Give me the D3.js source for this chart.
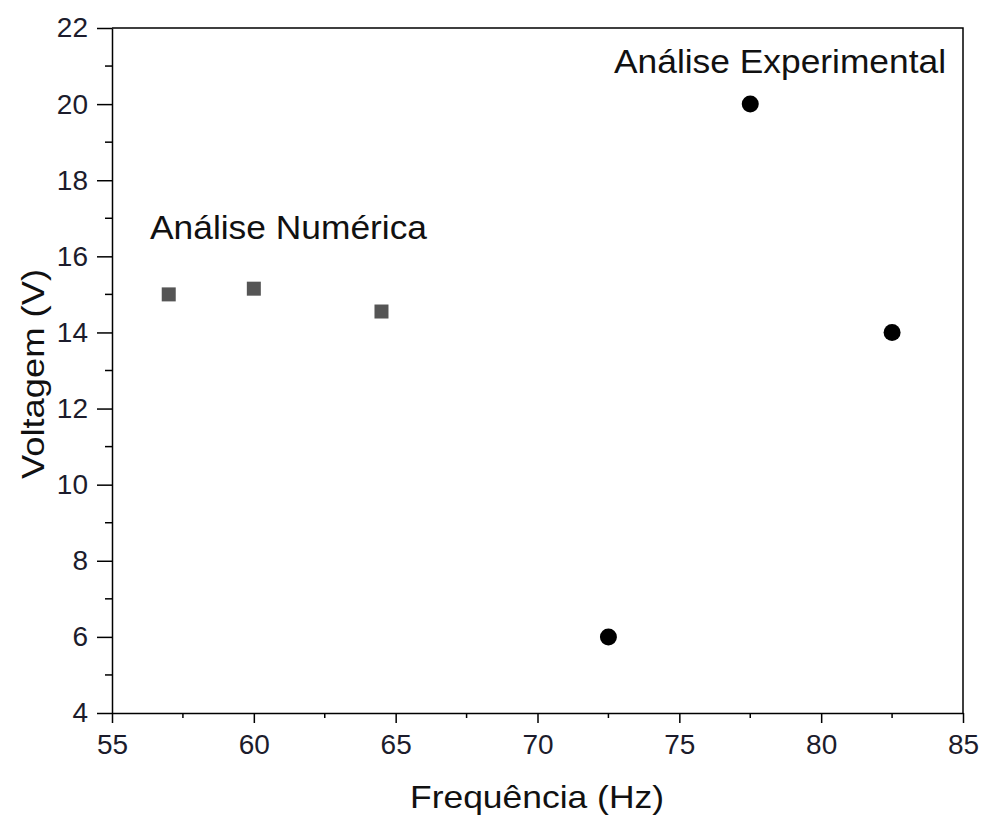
<!DOCTYPE html>
<html>
<head>
<meta charset="utf-8">
<script src="https://cdn.jsdelivr.net/npm/d3@7"></script>
<style>
  body { margin: 0; background: #fff; }
  svg { display: block; font-family: Arial, "Liberation Sans", sans-serif; }
</style>
</head>
<body>
<svg id="chart" width="988" height="827"></svg>
<script>
// Data
const numericFreq = [57, 60, 64.5];
const numericVolt = [15.0, 15.15, 14.55];
const experimentalFreq = [72.5, 77.5, 82.5];
const experimentalVolt = [6, 20, 14];
const xTicks = [55, 60, 65, 70, 75, 80, 85];
const yTicks = [4, 6, 8, 10, 12, 14, 16, 18, 20, 22];

const svg = d3.select("#chart");
const plotLeft = 112, plotRight = 963, plotTop = 28, plotBottom = 713;

const x = d3.scaleLinear().domain([55, 85]).range([plotLeft, plotRight]);
const y = d3.scaleLinear().domain([4, 22]).range([plotBottom, plotTop]);

// Frame (top and right)
svg.append("path")
  .attr("d", `M${plotLeft},${plotTop}H${plotRight}V${plotBottom}`)
  .attr("fill", "none")
  .attr("stroke", "#000")
  .attr("stroke-width", 1.5);

// Bottom axis
const xMinor = d3.range(57.5, 85, 5);
const xAxis = svg.append("g").attr("transform", `translate(0,${plotBottom})`);
xAxis.call(d3.axisBottom(x).tickValues(xTicks).tickSize(10).tickSizeOuter(0).tickPadding(11));
xAxis.selectAll(".minor").data(xMinor).enter().append("line")
  .attr("class", "minor")
  .attr("x1", d => x(d)).attr("x2", d => x(d))
  .attr("y1", 0).attr("y2", 5)
  .attr("stroke", "#000").attr("stroke-width", 1.5);

// Left axis
const yMinor = d3.range(5, 22, 2);
const yAxis = svg.append("g").attr("transform", `translate(${plotLeft},0)`);
yAxis.call(d3.axisLeft(y).tickValues(yTicks).tickSize(15).tickSizeOuter(0).tickPadding(9));
yAxis.selectAll(".minor").data(yMinor).enter().append("line")
  .attr("class", "minor")
  .attr("x1", -7).attr("x2", 0)
  .attr("y1", d => y(d)).attr("y2", d => y(d))
  .attr("stroke", "#000").attr("stroke-width", 1.5);

[xAxis, yAxis].forEach(g => {
  g.select(".domain").attr("stroke-width", 1.5);
  g.selectAll(".tick line").attr("stroke-width", 1.5);
  g.selectAll(".tick text")
    .attr("font-size", 28)
    .attr("font-family", "Arial, 'Liberation Sans', sans-serif")
    .attr("fill", "#1c1c2c");
});

// Numeric series (squares)
const sq = 14;
svg.append("g").selectAll("rect")
  .data(numericFreq.map((f, i) => [f, numericVolt[i]]))
  .enter().append("rect")
  .attr("x", d => x(d[0]) - sq / 2)
  .attr("y", d => y(d[1]) - sq / 2)
  .attr("width", sq).attr("height", sq)
  .attr("fill", "#555");

// Experimental series (circles)
svg.append("g").selectAll("circle")
  .data(experimentalFreq.map((f, i) => [f, experimentalVolt[i]]))
  .enter().append("circle")
  .attr("cx", d => x(d[0]))
  .attr("cy", d => y(d[1]))
  .attr("r", 8.5)
  .attr("fill", "#000");

// Annotations
svg.append("text")
  .attr("x", 150).attr("y", 239)
  .attr("font-size", 33).attr("fill", "#111")
  .attr("textLength", 277).attr("lengthAdjust", "spacingAndGlyphs")
  .text("Análise Numérica");

svg.append("text")
  .attr("x", 614).attr("y", 73)
  .attr("font-size", 33).attr("fill", "#111")
  .attr("textLength", 332).attr("lengthAdjust", "spacingAndGlyphs")
  .text("Análise Experimental");

// Axis titles
svg.append("text")
  .attr("x", 410).attr("y", 808)
  .attr("font-size", 32).attr("fill", "#111")
  .attr("textLength", 254).attr("lengthAdjust", "spacingAndGlyphs")
  .text("Frequência (Hz)");

svg.append("text")
  .attr("transform", "translate(44,479) rotate(-90)")
  .attr("font-size", 32).attr("fill", "#111")
  .attr("textLength", 210).attr("lengthAdjust", "spacingAndGlyphs")
  .text("Voltagem (V)");
</script>
</body>
</html>
